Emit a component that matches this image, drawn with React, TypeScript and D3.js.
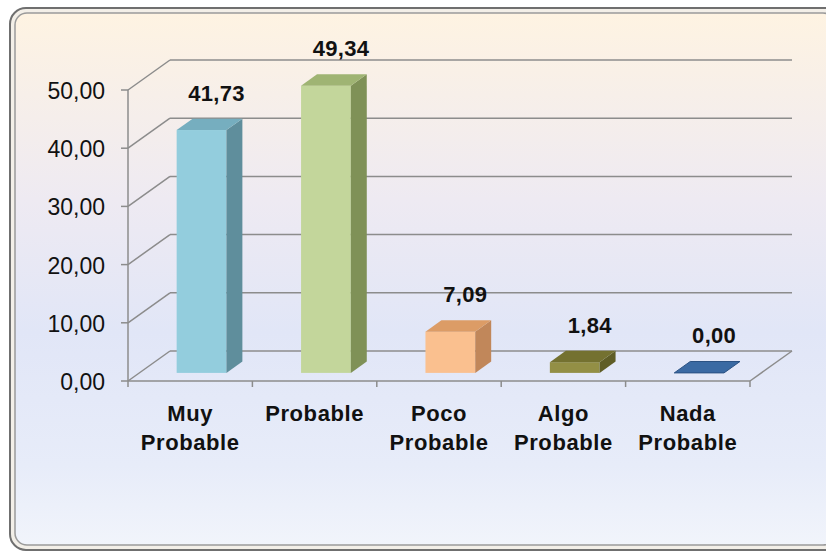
import React from 'react';
import * as d3 from 'd3';

const categories = [['Muy', 'Probable'], ['Probable'], ['Poco', 'Probable'], ['Algo', 'Probable'], ['Nada', 'Probable']];
const values = [41.73, 49.34, 7.09, 1.84, 0.0];
const yTicks = [0, 10, 20, 30, 40, 50];
const frontColors = ['#93cddd', '#c3d69b', '#fac08f', '#938f45', '#3d6fa8'];
const sideColors = ['#5f8e9c', '#7f9157', '#c1875a', '#5f5d26', '#2b5283'];
const topColors = ['#76aebf', '#9fb473', '#dc9c66', '#747130', '#3a6aa3'];

const W = 826;
const H = 553;
// 3D depth of the plot box
const DX = 42;
const DY = -30;

const fmt = (v: number) => v.toFixed(2).replace('.', ',');

export default function App() {
  const x = d3.scaleBand<number>().domain(values.map((_, i) => i)).range([128, 750]);
  const y = d3.scaleLinear().domain([0, 50]).range([381, 90]);
  const bw = x.bandwidth();
  const barW = bw * 0.4;
  const f = 0.27; // bar front depth
  const d = 0.38; // bar depth
  const grid = '#8c8c8c';
  const font = 'Liberation Sans, Arial, sans-serif';

  return (
    <svg width={W} height={H} style={{ position: 'absolute', left: 0, top: 0 }}>
      <defs>
        <linearGradient id="bg" x1="0" y1="0" x2="0" y2="1">
          <stop offset="0" stopColor="#fef3e2" />
          <stop offset="0.35" stopColor="#eeeaf2" />
          <stop offset="0.6" stopColor="#e1e6f7" />
          <stop offset="0.85" stopColor="#e7ecf9" />
          <stop offset="1" stopColor="#f1f4fb" />
        </linearGradient>
      </defs>
      <rect x={0} y={0} width={W} height={H} fill="#ffffff" />
      <rect x={10} y={8} width={830} height={542} rx={16} fill="#f3efe8" stroke="#6f6f6f" strokeWidth={2} />
      <rect x={15} y={13} width={820} height={532} rx={12} fill="url(#bg)" stroke="#9a9a9a" strokeWidth={1.5} />

      {/* walls gridlines */}
      {yTicks.map(t => (
        <g key={t}>
          <line x1={128} y1={y(t)} x2={128 + DX} y2={y(t) + DY} stroke={grid} strokeWidth={1.5} />
          <line x1={128 + DX} y1={y(t) + DY} x2={750 + DX} y2={y(t) + DY} stroke={grid} strokeWidth={1.5} />
          <line x1={121} y1={y(t)} x2={128} y2={y(t)} stroke={grid} strokeWidth={1.5} />
          <text x={105} y={y(t) + 1} dominantBaseline="central" textAnchor="end"
            fontFamily={font} fontSize={23} fill="#111">{fmt(t)}</text>
        </g>
      ))}
      <line x1={128} y1={y(50)} x2={128} y2={y(0)} stroke={grid} strokeWidth={1.5} />
      <line x1={128} y1={y(0)} x2={750} y2={y(0)} stroke={grid} strokeWidth={1.5} />
      <line x1={750} y1={y(0)} x2={750 + DX} y2={y(0) + DY} stroke={grid} strokeWidth={1.5} />
      {[...values.map((_, i) => x(i) as number), 750].map((xx, i) => (
        <line key={i} x1={xx} y1={y(0)} x2={xx} y2={y(0) + 6} stroke={grid} strokeWidth={1.5} />
      ))}

      {/* bars */}
      {values.map((v, i) => {
        const x0 = (x(i) as number) + (bw - barW) / 2 + f * DX;
        const x1 = x0 + barW;
        const bot = y(0) + f * DY;
        const top = y(v) + f * DY;
        const ddx = d * DX;
        const ddy = d * DY;
        const side = `M${x1},${top}L${x1 + ddx},${top + ddy}L${x1 + ddx},${bot + ddy}L${x1},${bot}Z`;
        const topFace = `M${x0},${top}L${x0 + ddx},${top + ddy}L${x1 + ddx},${top + ddy}L${x1},${top}Z`;
        return (
          <g key={i}>
            {v > 0 && <rect x={x0} y={top} width={barW} height={bot - top} fill={frontColors[i]} />}
            {v > 0 && <path d={side} fill={sideColors[i]} />}
            <path d={topFace} fill={topColors[i]} stroke={v > 0 ? 'none' : sideColors[i]} strokeWidth={1} />
            <text x={x0 + barW / 2 + 15} y={top - 37} dominantBaseline="central" textAnchor="middle"
              fontFamily={font} fontWeight="bold" fontSize={22}
              letterSpacing={0.3} fill="#111">{fmt(v)}</text>
          </g>
        );
      })}

      {/* category labels */}
      {categories.map((lines, i) => (
        <text key={i} textAnchor="middle" fontFamily={font}
          fontWeight="bold" fontSize={22} letterSpacing={0.6} fill="#111">
          {lines.map((l, j) => (
            <tspan key={j} x={(x(i) as number) + bw / 2} y={421 + j * 29}>{l}</tspan>
          ))}
        </text>
      ))}
    </svg>
  );
}
